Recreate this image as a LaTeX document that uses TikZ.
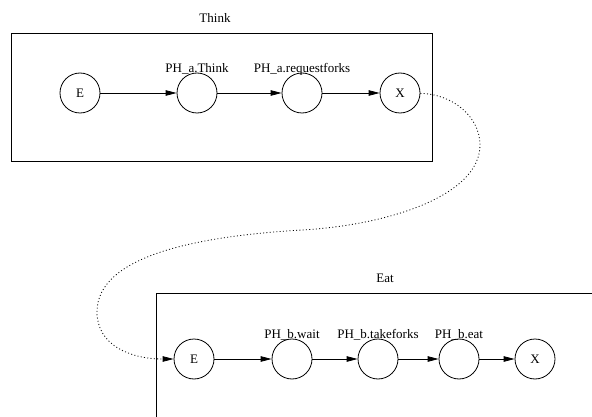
\documentclass[tikz,border=0pt]{standalone}
\usepackage{fontspec}
\setmainfont{Liberation Serif}
\usetikzlibrary{arrows.meta}

\tikzset{
    state/.style={draw, circle, minimum size=40pt, inner sep=0pt, line width=0.8pt},
    frame/.style={draw, rectangle, inner sep=0pt, line width=1pt},
    tag/.style={anchor=base, inner sep=0pt},
    flow/.style={-{Triangle[length=11pt, width=5.5pt]}, line width=0.8pt},
    jump/.style={flow, dash pattern=on 1pt off 2.3pt},
}

\begin{document}
\begin{tikzpicture}[x=1pt, y=-1pt, font=\fontsize{13}{15}\selectfont]
    \useasboundingbox (0,0) rectangle (592,417);
    \clip (0,0) rectangle (592,417);

    % first philosopher
    \node[frame, minimum width=421pt, minimum height=128pt] (think) at (221.5,98) {};
    \node[tag] (thinkname) at (215,23) {Think};
    \node[state] (aE) at (80,93) {E};
    \node[state] (aT) at (197,93) {};
    \node[state] (aR) at (302,93) {};
    \node[state] (aX) at (400,93) {X};
    \node[tag] (aTname) at (aT.north) {PH\_a.Think};
    \node[tag] (aRname) at (aR.north) {PH\_a.requestforks};

    \draw[flow] (aE) -- (aT);
    \draw[flow] (aT) -- (aR);
    \draw[flow] (aR) -- (aX);

    % second philosopher
    \node[frame, minimum width=460pt, minimum height=140pt] (eat) at (386,363) {};
    \node[tag] (eatname) at (385,282) {Eat};
    \node[state] (bE) at (194,359) {E};
    \node[state] (bW) at (292,359) {};
    \node[state] (bT) at (378,359) {};
    \node[state] (bA) at (459,359) {};
    \node[state] (bX) at (535,359) {X};
    \node[tag] (bWname) at (bW.north) {PH\_b.wait};
    \node[tag] (bTname) at (bT.north) {PH\_b.takeforks};
    \node[tag] (bAname) at (bA.north) {PH\_b.eat};

    \draw[flow] (bE) -- (bW);
    \draw[flow] (bW) -- (bT);
    \draw[flow] (bT) -- (bA);
    \draw[flow] (bA) -- (bX);

    % exit of Think leads into Eat
    \draw[jump] (aX) .. controls (453,94) and (480,117) .. (480,145)
        .. controls (480,195) and (390,225) .. (302,230)
        .. controls (200,236) and (97,255) .. (97,312)
        .. controls (97,345) and (130,359) .. (bE);
\end{tikzpicture}
\end{document}
